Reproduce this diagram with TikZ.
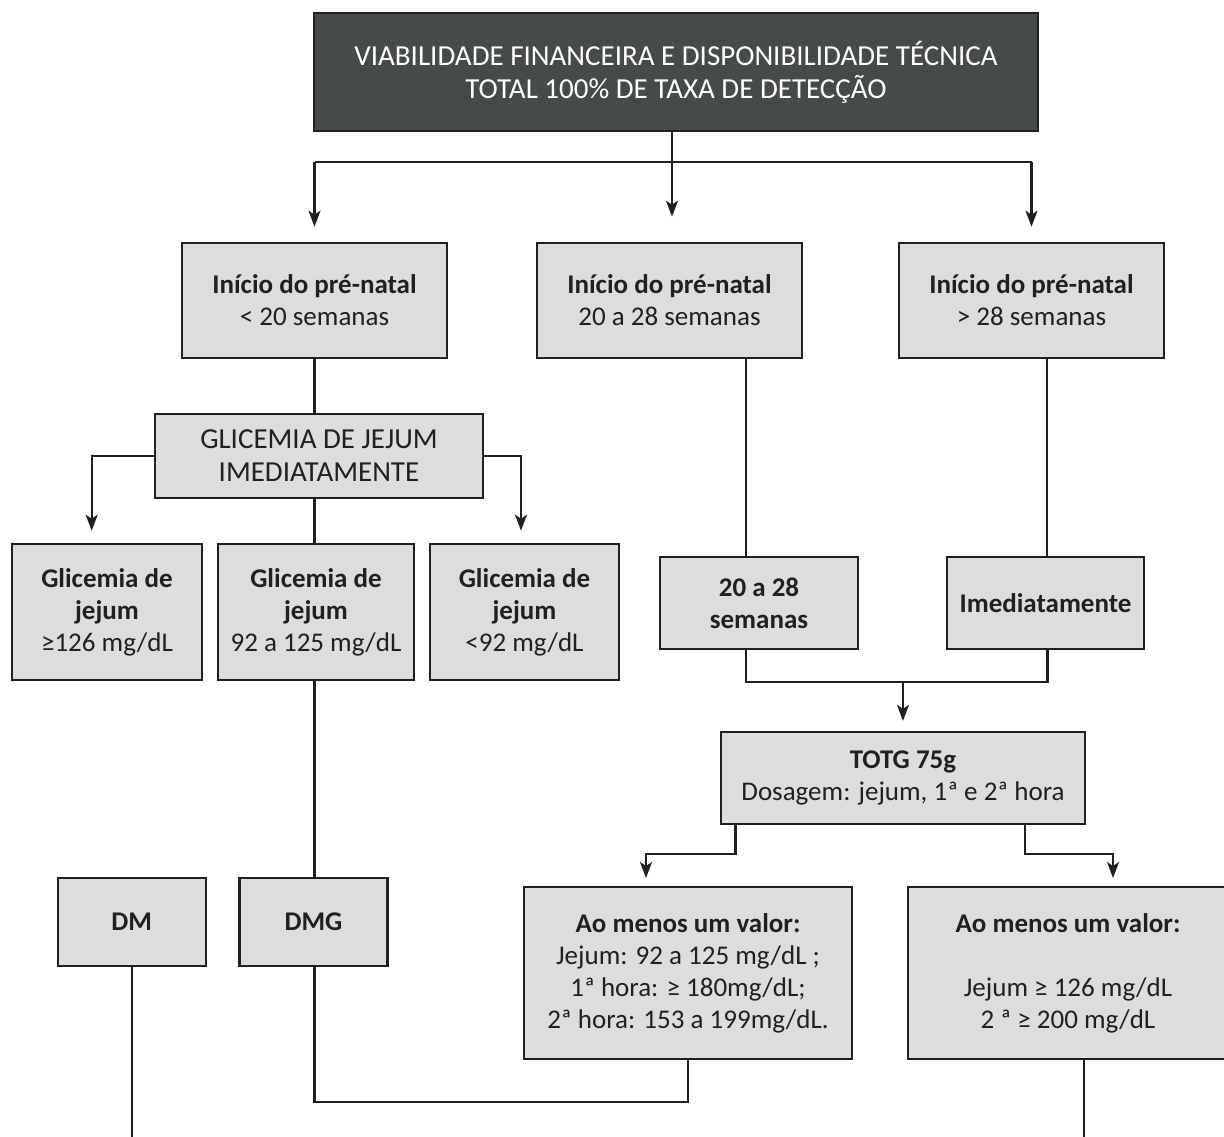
\documentclass[tikz,border=0pt]{standalone}
\usepackage{fontspec}
\setmainfont{Carlito}
\usetikzlibrary{arrows.meta,calc}
\definecolor{linec}{HTML}{231F20}
\definecolor{boxc}{HTML}{DCDDDF}
\definecolor{darkc}{HTML}{474A4B}
\tikzset{
  box/.style={draw=linec, fill=boxc, line width=2.3pt, inner sep=0pt, align=center,
    text=linec, font=\fontsize{27}{32}\selectfont},
  capsbox/.style={box, font=\fontsize{29}{33}\selectfont},
  conn/.style={draw=linec, line width=2.2pt},
  arr/.style={conn, -{Stealth[length=16pt,width=12pt,inset=4pt]}},
}
\begin{document}
\begin{tikzpicture}[x=1pt,y=1pt]
\useasboundingbox (0,0) rectangle (1224,-1137);
% top box
\node[capsbox, fill=darkc, text=white, minimum width=724pt, minimum height=118pt] (top) at (676,-72)
  {VIABILIDADE FINANCEIRA E DISPONIBILIDADE TÉCNICA\\TOTAL 100\% DE TAXA DE DETECÇÃO};
% row 2
\node[box, minimum width=265pt, minimum height=115pt] (A) at (314.5,-300.5)
  {\textbf{Início do pré-natal}\\< 20 semanas};
\node[box, minimum width=265pt, minimum height=115pt] (B) at (669.5,-300.5)
  {\textbf{Início do pré-natal}\\20 a 28 semanas};
\node[box, minimum width=265pt, minimum height=115pt] (C) at (1031.5,-300.5)
  {\textbf{Início do pré-natal}\\> 28 semanas};
% glicemia
\node[capsbox, minimum width=328pt, minimum height=84pt] (GL) at (319,-456)
  {GLICEMIA DE JEJUM\\IMEDIATAMENTE};
\node[box, minimum width=190pt, minimum height=136pt] (G1) at (107,-612)
  {\textbf{Glicemia de}\\\textbf{jejum}\\≥126 mg/dL};
\node[box, minimum width=196pt, minimum height=136pt] (G2) at (316,-612)
  {\textbf{Glicemia de}\\\textbf{jejum}\\92 a 125 mg/dL};
\node[box, minimum width=189pt, minimum height=136pt] (G3) at (524.5,-612)
  {\textbf{Glicemia de}\\\textbf{jejum}\\<92 mg/dL};
% right column
\node[box, minimum width=198pt, minimum height=92pt] (D) at (759,-603)
  {\textbf{20 a 28}\\\textbf{semanas}};
\node[box, minimum width=197pt, minimum height=92pt] (E) at (1045.5,-603)
  {\textbf{Imediatamente}};
\node[box, minimum width=364pt, minimum height=92pt] (T) at (903,-778)
  {\textbf{TOTG 75g}\\Dosagem: jejum, 1ª e 2ª hora};
\node[box, minimum width=328pt, minimum height=172pt] (F) at (688,-973)
  {\textbf{Ao menos um valor:}\\Jejum: 92 a 125 mg/dL ;\\1ª hora: ≥ 180mg/dL;\\2ª hora: 153 a 199mg/dL.};
\node[box, minimum width=320pt, minimum height=172pt] (G) at (1068,-973)
  {\textbf{Ao menos um valor:}\\[32pt]Jejum ≥ 126 mg/dL\\2 ª ≥ 200 mg/dL};
% bottom left
\node[box, minimum width=148pt, minimum height=88pt] (DM) at (131.7,-922) {\textbf{DM}};
\node[box, minimum width=148pt, minimum height=88pt] (DMG) at (313.5,-922) {\textbf{DMG}};
% coordinates for free ends
\coordinate (bus) at (672,-161.7);
\coordinate (tA) at (314.5,-226.7);
\coordinate (tB) at (672,-216.7);
\coordinate (tC) at (1031.5,-226.7);
\coordinate (tG1) at (91.7,-530.7);
\coordinate (tG3) at (521,-530.7);
\coordinate (join) at (903,-682);
\coordinate (tF) at (646,-878);
\coordinate (tG) at (1113,-878);
\coordinate (fb) at (688,-1102.3);
\coordinate (botDM) at (131.7,-1140);
\coordinate (botG) at (1084,-1140);
% connectors
\draw[conn] (top.south -| bus) -- (bus);
\draw[conn] (tA |- bus) -- (tC |- bus);
\draw[arr] (tA |- bus) -- (tA);
\draw[arr] (bus) -- (tB);
\draw[arr] (tC |- bus) -- (tC);
\draw[conn] (A.south) -- (A.south |- GL.north);
\draw[arr] (GL.west) -| (tG1);
\draw[arr] (GL.east) -| (tG3);
\draw[conn] (GL.south -| A.south) -- (G2.north -| A.south);
\draw[conn] (G2.south -| A.south) -- (DMG.north -| A.south);
\draw[conn] ([xshift=76.5pt]B.south) -- ([xshift=-13pt]D.north);
\draw[conn] ([xshift=15.5pt]C.south) -- ([xshift=1.5pt]E.north);
\draw[conn] ([xshift=-13pt]D.south) |- (join);
\draw[conn] ([xshift=2pt]E.south) |- (join);
\draw[arr, shorten >=10pt] (join) -- (T.north);
\draw[arr] ([xshift=-167.5pt]T.south) -- ++(0,-29) -| (tF);
\draw[arr] ([xshift=122pt]T.south) -- ++(0,-29) -| (tG);
\draw[conn] (F.south) -- (F.south |- fb) -| (DMG.south -| A.south);
\draw[conn] (DM.south) -- (botDM);
\draw[conn] (G.south -| botG) -- (botG);
\end{tikzpicture}
\end{document}
